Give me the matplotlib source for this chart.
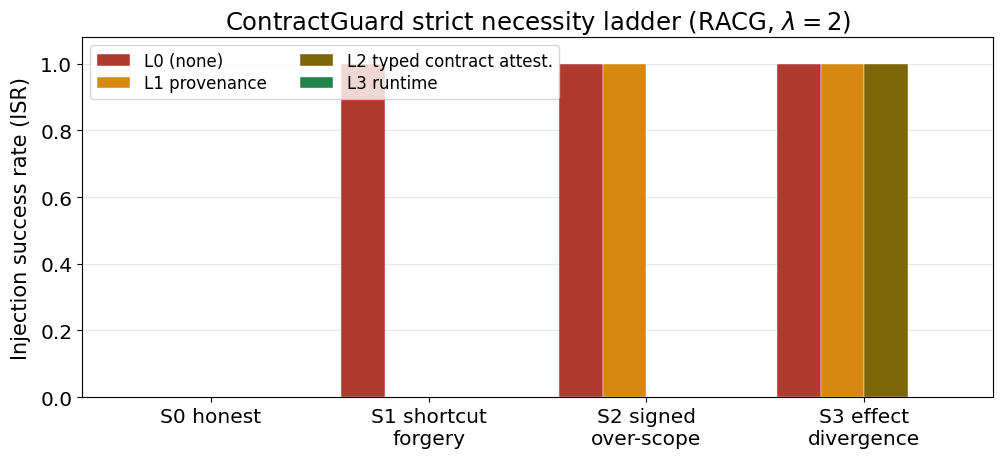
import numpy as np
import matplotlib
matplotlib.use("Agg")
import matplotlib.pyplot as plt

scenarios = ["S0 honest", "S1 shortcut\nforgery", "S2 signed\nover-scope", "S3 effect\ndivergence"]
levels = ["L0 (none)", "L1 provenance", "L2 typed contract attest.", "L3 runtime"]
colors = ["#b03a2e", "#d68910", "#7d6608", "#1e8449"]

# injection success rate per level, one value per scenario
isr = {
    "L0 (none)": [0.0, 1.0, 1.0, 1.0],
    "L1 provenance": [0.0, 0.0, 1.0, 1.0],
    "L2 typed contract attest.": [0.0, 0.0, 0.0, 1.0],
    "L3 runtime": [0.0, 0.0, 0.0, 0.0],
}

fig, ax = plt.subplots(figsize=(10.01, 4.64), dpi=100)
x = np.arange(len(scenarios))
w = 0.2
for i, lvl in enumerate(levels):
    ax.bar(x + (i - 1.5) * w, isr[lvl], w, color=colors[i], label=lvl,
           edgecolor="white", linewidth=0.3)

ax.set_xticks(x)
ax.set_xticklabels(scenarios, fontsize=14.5)
ax.tick_params(axis="y", labelsize=14.5)
ax.set_ylim(0, 1.08)
ax.set_ylabel("Injection success rate (ISR)", fontsize=15, labelpad=7)
ax.set_title(r"ContractGuard strict necessity ladder (RACG, $\lambda=2$)", fontsize=17.5)
ax.grid(axis="y", alpha=0.3)
ax.set_axisbelow(True)
ax.legend(loc="upper left", ncol=2, fontsize=12, labelspacing=0.25)

plt.subplots_adjust(left=0.082, right=0.992, top=0.918, bottom=0.142)
plt.savefig("out.png")
